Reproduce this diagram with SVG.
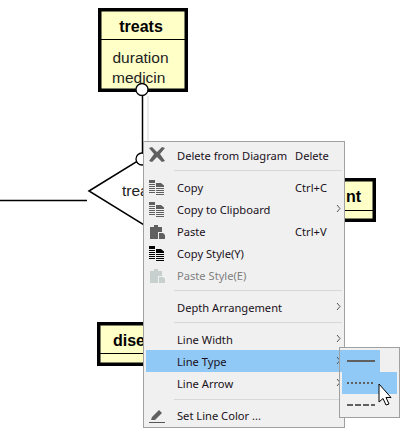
<svg xmlns="http://www.w3.org/2000/svg" width="413" height="435" viewBox="0 0 413 435">
<style>
.menu{font-family:"Noto Sans","Open Sans",sans-serif;font-size:11.150px;fill:#1a1020}
.dis{fill:#808080}
.sep{stroke:#d8d8d8;stroke-width:1;fill:none}
.ent{fill:#ffffc8;stroke:#000;stroke-width:3.5}
.chev{fill:none;stroke:#555;stroke-width:1}
.ico{fill:#606060}
.title{font-family:"Liberation Sans",Arial,sans-serif;font-size:16px;font-weight:bold;fill:#000}
.attr{font-family:"Liberation Sans",Arial,sans-serif;font-size:15.500px;fill:#222}
</style>
<defs>
<g id="copyicon">
<path d="M0 0H6V3H0ZM0 4H6V5H0ZM0 6H6V7H0ZM0 8H6V9H0ZM0 10H6V11H0ZM0 12H6V13H0Z"/>
<path d="M7 3H12L15 5.500V7H7ZM7 8H15V9H7ZM7 10H15V11H7ZM7 12H15V13H7ZM7 14H15V15H7Z"/>
</g>
<g id="pasteicon">
<path d="M0 3H4V1H8V3H12V8H8V15H0Z"/>
<path d="M9 9H13L15 11V15H9Z"/>
</g>
</defs>
<rect width="413" height="435" fill="#fff"/>
<g id="connectors" fill="none" stroke="#000">
<path d="M142.500 92V156" stroke-width="1.500"/>
<path d="M148 96V141" stroke="#d8d8d8" stroke-width="1"/>
<path d="M0 200.500H87" stroke-width="1.500"/>
</g>
<g id="node-treats">
<rect class="ent" x="99.750" y="9.750" width="86.500" height="80.500"/>
<path d="M100 39.500H186" stroke="#000" stroke-width="1"/>
<text class="title" x="141" y="32" text-anchor="middle">treats</text>
<text class="attr" x="112.500" y="63">duration</text>
<text class="attr" x="112" y="83">medicin</text>
<circle cx="142" cy="89.500" r="6" fill="#fff" stroke="#000" stroke-width="1.300"/>
</g>
<g id="node-relation">
<path d="M89 191L144 157V225Z" fill="#fff" stroke="#000" stroke-width="1.500"/>
<circle cx="142" cy="159" r="6" fill="#fff" stroke="#000" stroke-width="1.300"/>
<text class="attr" x="122" y="196">trea</text>
</g>
<g id="node-patient">
<rect class="ent" x="300" y="179.750" width="74.250" height="40.500"/>
<path d="M300 210.500H374" stroke="#000" stroke-width="1"/>
<text class="title" x="361" y="202" text-anchor="end">nt</text>
</g>
<g id="node-disease">
<rect class="ent" x="98.750" y="323.750" width="60" height="40.500"/>
<path d="M98.500 353.500H158" stroke="#000" stroke-width="1"/>
<text class="title" x="113" y="346">dise</text>
</g>
<g id="context-menu">
<rect x="143.500" y="141.500" width="201" height="286" fill="#f0f0f0" stroke="#a0a0a0"/>
<path class="sep" d="M174 170.500H342M174 290.500H342M174 322.500H342M174 399.500H342"/>
<rect x="146" y="350" width="234" height="22" fill="#90c8f6"/>
<g id="icons">
<path d="M149 148l3-1 5 5 5-5 3 1-5 6 5 7-3 1-5-5-5 5-3-1 5-7z" class="ico"/>
<use href="#copyicon" x="149" y="180" class="ico"/>
<use href="#copyicon" x="149" y="202" class="ico"/>
<use href="#pasteicon" x="150" y="224" class="ico"/>
<use href="#copyicon" x="149" y="246" fill="#000"/>
<use href="#pasteicon" x="150" y="268" fill="#c8cfcf"/>
<path d="M151 420l1-3 7-7 3 3-7 7z" class="ico"/><path d="M149 422.500H165" stroke="#555" fill="none"/>
</g>
<text class="menu" x="177" y="160">Delete from Diagram</text><text class="menu" x="295" y="160">Delete</text>
<text class="menu" x="177" y="192">Copy</text><text class="menu" x="295" y="192">Ctrl+C</text>
<text class="menu" x="177" y="214">Copy to Clipboard</text>
<text class="menu" x="177" y="236">Paste</text><text class="menu" x="295" y="236">Ctrl+V</text>
<text class="menu" x="177" y="258">Copy Style(Y)</text>
<text class="menu dis" x="177" y="280">Paste Style(E)</text>
<text class="menu" x="177" y="312">Depth Arrangement</text>
<text class="menu" x="177" y="344">Line Width</text>
<text class="menu" x="177" y="366">Line Type</text>
<text class="menu" x="177" y="388">Line Arrow</text>
<text class="menu" x="177" y="420">Set Line Color ...</text>
<path class="chev" d="M337 205l3 3.500-3 3.500M337 303l3 3.500-3 3.500M337 335l3 3.500-3 3.500M337 357l3 3.500-3 3.500M337 379l3 3.500-3 3.500"/>
</g>
<g id="submenu">
<rect x="339.500" y="347.500" width="60" height="70" fill="#f0f0f0" stroke="#a0a0a0"/>
<rect x="340" y="350" width="40" height="22" fill="#90c8f6"/>
<rect x="342" y="372" width="55" height="22" fill="#90c8f6"/>
<path d="M347 361H375" stroke="#606060" stroke-width="2" fill="none"/>
<path d="M347 383H375" stroke="#606060" stroke-width="2" stroke-dasharray="2 2" fill="none"/>
<path d="M347 405H375" stroke="#606060" stroke-width="2" stroke-dasharray="6 2" fill="none"/>
<path d="M379 384V402L383 398.500 386 405 389 404 386 397.500H391Z" fill="#fff" stroke="#000"/>
</g>
</svg>
